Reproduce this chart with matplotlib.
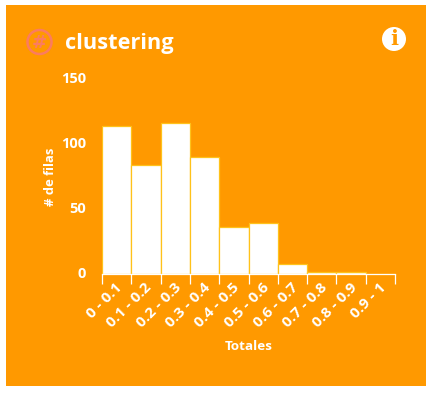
import matplotlib
matplotlib.use('Agg')
import matplotlib.pyplot as plt
from matplotlib.patches import Circle, Rectangle
from matplotlib.transforms import ScaledTranslation

plt.rc('font', family='Open Sans', weight='bold')

labels = ['0 - 0.1', '0.1 - 0.2', '0.2 - 0.3', '0.3 - 0.4', '0.4 - 0.5',
          '0.5 - 0.6', '0.6 - 0.7', '0.7 - 0.8', '0.8 - 0.9', '0.9 - 1']
counts = [114, 84, 116, 90, 36, 39, 7, 1, 1, 0]
yticks = [0, 50, 100, 150]

ORANGE = '#ff9900'
W, H = 431, 394

fig = plt.figure(figsize=(W / 100, H / 100), dpi=100, facecolor='white')

# pixel overlay for the card, title and icons
bg = fig.add_axes([0, 0, 1, 1])
bg.set_xlim(0, W)
bg.set_ylim(H, 0)
bg.axis('off')
bg.add_patch(Rectangle((6, 5), 420, 381, fc=ORANGE, ec='none'))
bg.add_patch(Circle((39.5, 42), 12, fc='none', ec='#fb7c60', lw=1.8))
bg.text(39.5, 42.5, '#', color='#fb7c60', fontsize=13, family='DejaVu Sans',
        ha='center', va='center')
bg.text(65, 43, 'clustering', color='white', fontsize=15.7, ha='left', va='center')
bg.add_patch(Circle((394, 39), 12, fc='white', ec='none'))
bg.text(394, 38.5, 'i', color=ORANGE, fontsize=15, family='DejaVu Serif', ha='center', va='center')

ax = fig.add_axes([102 / W, 1 - 273.5 / H, 293 / W, 194.5 / H])
ax.patch.set_alpha(0)
x = list(range(len(counts)))
ax.bar(x, counts, width=1, align='edge', color='white', edgecolor='#ffc21a', linewidth=0.9)
ax.set_xlim(0, 10)
ax.set_ylim(0, 150)

for side in ['top', 'right', 'left']:
    ax.spines[side].set_visible(False)
ax.spines['bottom'].set_color('white')
ax.spines['bottom'].set_linewidth(0.9)

ax.set_yticks(yticks)
ax.tick_params(axis='y', length=0, labelcolor='white', labelsize=10.5, pad=11.5)
shift = ScaledTranslation(0, 1.5 / 100, fig.dpi_scale_trans)
for lab in ax.get_yticklabels():
    lab.set_transform(lab.get_transform() + shift)
ax.set_xticks(list(range(len(counts) + 1)))
ax.set_xticklabels([''] * (len(counts) + 1))
ax.tick_params(axis='x', length=7.5, width=0.9, color='white')

# rotated labels end just under the middle of each bar
for i, lab in enumerate(labels):
    ax.annotate(lab, xy=(i + 0.5, 0), xytext=(-1, -5), xycoords=('data', 'axes fraction'),
                textcoords='offset points', color='white', fontsize=11, rotation=45,
                ha='right', va='top', rotation_mode='anchor')

bg.text(249, 347, 'Totales', color='white', fontsize=9.7, ha='center', va='center')
bg.text(50.5, 177, '# de filas', color='white', fontsize=9.4, rotation=90, ha='center', va='center')

fig.savefig('out.png', dpi=100, facecolor='white')
